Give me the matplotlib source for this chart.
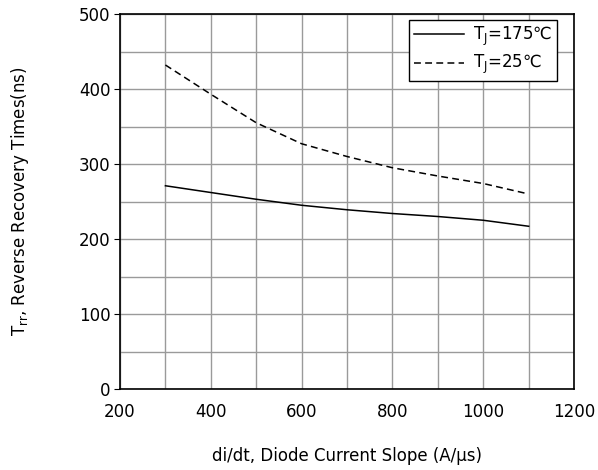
import matplotlib
matplotlib.use("Agg")
import matplotlib.pyplot as plt
from matplotlib.ticker import MultipleLocator

di_dt = [300, 400, 500, 600, 700, 800, 900, 1000, 1100]
trr_175 = [271, 262, 253, 245, 239, 234, 230, 225, 217]
trr_25 = [432, 393, 355, 327, 310, 295, 284, 274, 260]

plt.rcParams["font.family"] = ["DejaVu Sans", "Noto Sans CJK SC"]
plt.rcParams["mathtext.fontset"] = "dejavusans"

fig = plt.figure(figsize=(5.98, 4.70), dpi=100)
ax = fig.add_axes([0.2007, 0.1723, 0.7593, 0.7979])

ax.plot(di_dt, trr_175, color="black", lw=1.1, label="T$_\\mathrm{J}$=175\u2103")
ax.plot(di_dt, trr_25, color="black", lw=1.1, ls=(0, (4.5, 2.8)), label="T$_\\mathrm{J}$=25\u2103")

ax.set_xlim(200, 1200)
ax.set_ylim(0, 500)
ax.xaxis.set_major_locator(MultipleLocator(200))
ax.xaxis.set_minor_locator(MultipleLocator(100))
ax.yaxis.set_major_locator(MultipleLocator(100))
ax.yaxis.set_minor_locator(MultipleLocator(50))
ax.grid(which="both", color="#9a9a9a", lw=1.0)
ax.set_axisbelow(True)
ax.tick_params(axis="x", which="both", length=0, pad=10, labelsize=12)
ax.tick_params(axis="y", which="major", length=4, pad=3, labelsize=12)
ax.tick_params(axis="y", which="minor", length=0)
for s in ax.spines.values():
    s.set_color("black")
    s.set_linewidth(1.2)

ax.set_xlabel("di/dt, Diode Current Slope (A/\u03bcs)", fontsize=12)
ax.set_ylabel("T$_\\mathrm{rr}$, Reverse Recovery Times(ns)", fontsize=12)
ax.xaxis.set_label_coords(0.5, -0.155)
ax.yaxis.set_label_coords(-0.196, 0.5)

leg = ax.legend(loc="upper right", bbox_to_anchor=(0.9626, 0.984), fontsize=12,
                frameon=True, fancybox=False, borderaxespad=0, borderpad=0.3,
                handlelength=3.0, handletextpad=0.5, labelspacing=0.3, framealpha=1)
leg.get_frame().set_edgecolor("black")
leg.get_frame().set_linewidth(1.0)

fig.savefig("out.png", dpi=100)
